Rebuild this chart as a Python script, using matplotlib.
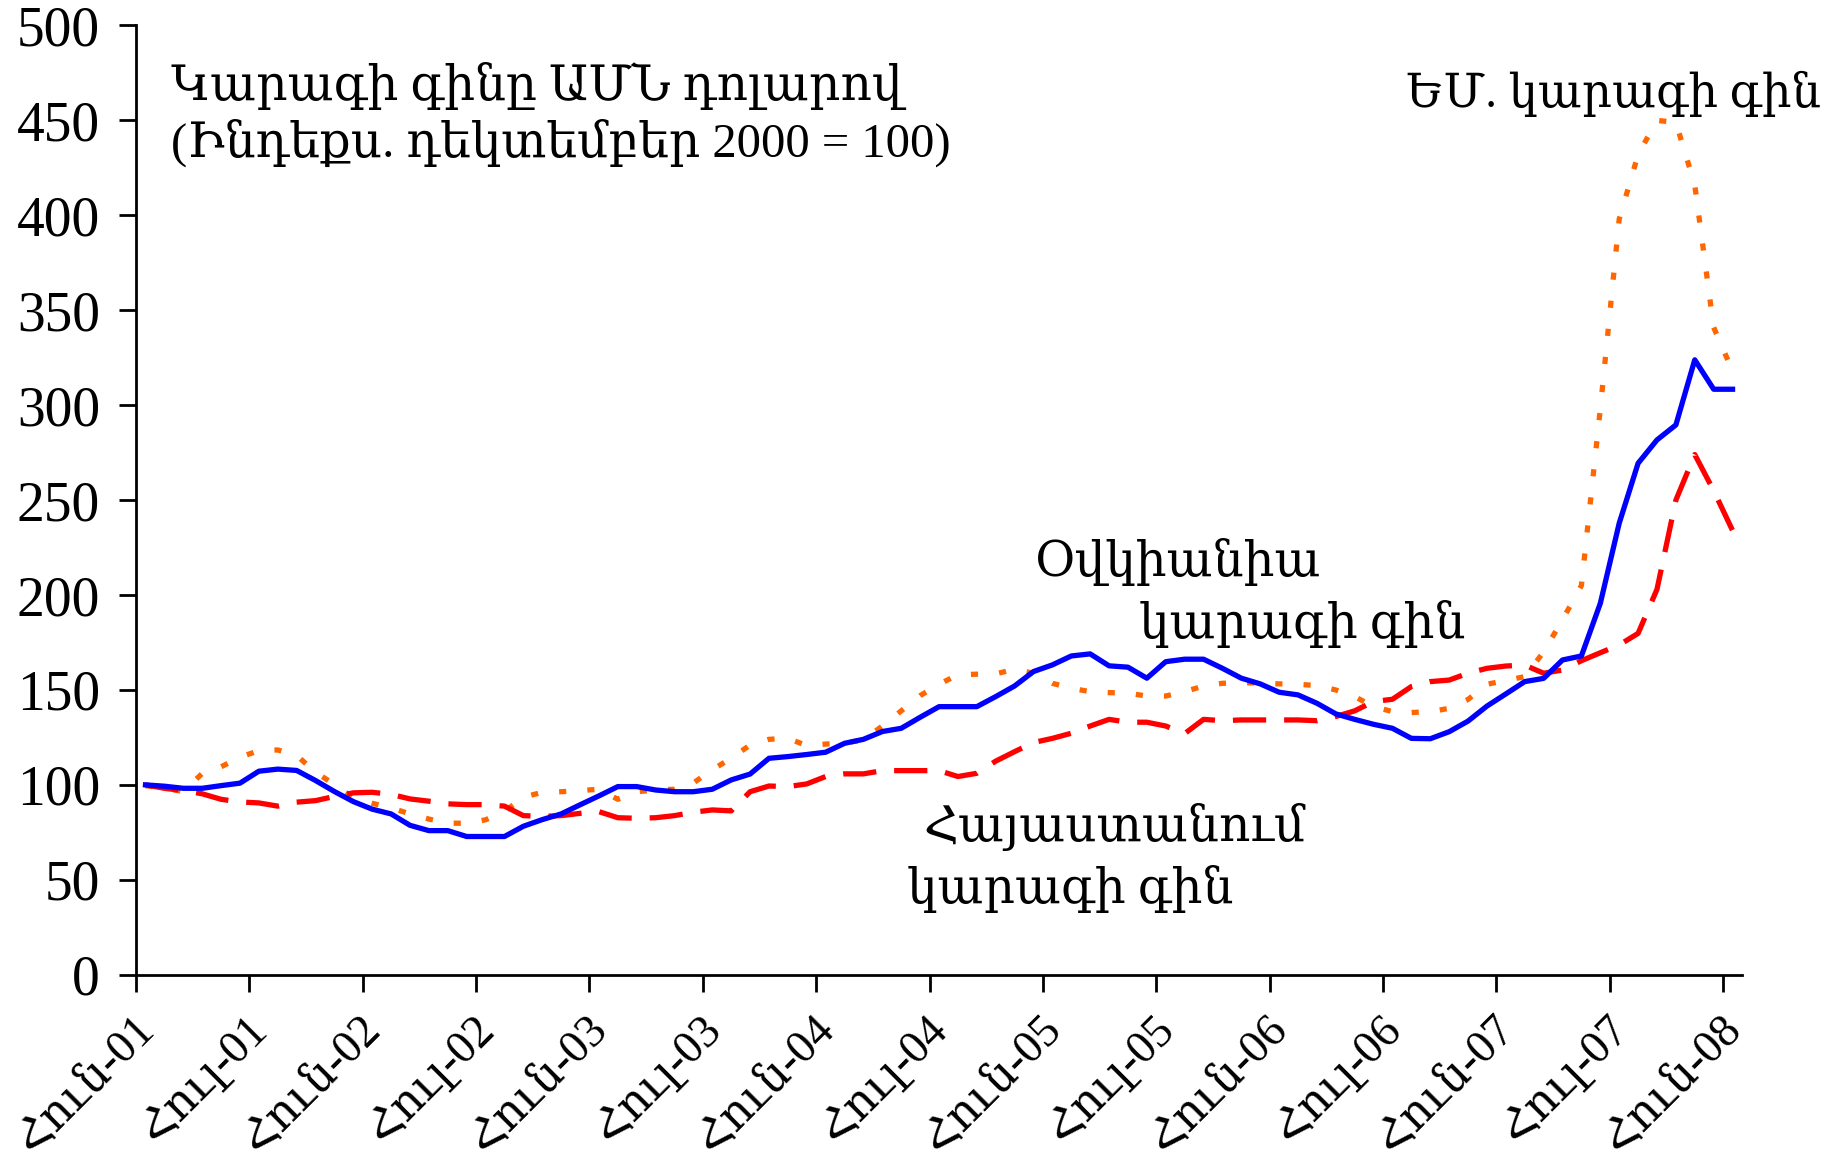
import matplotlib
matplotlib.use("Agg")
import matplotlib.pyplot as plt
import matplotlib.transforms as mtransforms
import numpy as np

# monthly index values, Jan-01 .. Jan-08 (Dec 2000 = 100)
oceania = [100, 99.3, 98.2, 98.2, 99.6, 100.9, 107.2, 108.3, 107.6, 102.3,
           96.5, 91.2, 87.2, 84.7, 78.7, 75.9, 75.9, 72.8, 72.8, 72.8,
           78.2, 81.7, 84.7, 89.5, 94.2, 99.1, 99.1, 97.3, 96.4, 96.4,
           97.7, 102.6, 105.7, 114.0, 114.9, 116.0, 117.2, 121.9, 124.0, 128.1,
           129.8, 135.6, 141.2, 141.2, 141.2, 146.5, 152.1, 159.7, 163.2, 167.9,
           169.0, 162.7, 162.0, 156.2, 164.9, 166.2, 166.2, 161.4, 156.2, 153.2,
           148.8, 147.4, 143.0, 137.4, 134.5, 131.9, 129.8, 124.5, 124.3, 128.0,
           133.6, 141.5, 147.9, 154.4, 156.1, 165.8, 167.9, 195.6, 237.8, 269.4,
           281.7, 289.6, 323.9, 308.4, 308.4]

eu = [99.6, 98.2, 96.5, 106.0, 109.5, 114.6, 118.0, 118.4, 115.5, 106.7,
      100.2, 93.2, 90.3, 87.9, 84.7, 82.0, 79.8, 79.8, 81.6, 86.0,
      93.5, 96.1, 96.4, 97.0, 97.7, 92.4, 96.4, 97.3, 97.7, 101.0,
      108.0, 114.0, 121.0, 124.0, 124.5, 120.7, 121.5, 122.0, 123.7, 131.0,
      139.0, 147.0, 153.0, 158.0, 158.3, 158.5, 160.9, 158.8, 153.5, 150.9,
      149.1, 148.6, 148.3, 146.8, 146.8, 149.1, 152.1, 153.5, 153.9, 153.5,
      153.2, 153.0, 152.3, 150.0, 146.5, 141.2, 138.6, 138.1, 138.6, 140.3,
      145.0, 153.0, 155.0, 157.0, 170.0, 187.0, 205.0, 298.0, 398.0, 432.0,
      450.0, 449.0, 416.0, 341.0, 318.0]

armenia = [100, 98.2, 97.0, 95.3, 92.4, 91.0, 90.5, 88.8, 90.9, 91.7,
           93.9, 95.8, 96.1, 95.0, 92.6, 91.4, 90.0, 89.6, 89.6, 88.8,
           83.8, 83.4, 83.8, 85.0, 85.9, 82.7, 82.4, 82.7, 83.8, 85.6,
           86.8, 86.3, 96.4, 99.4, 99.1, 100.5, 104.4, 105.8, 105.8, 107.5,
           107.5, 107.5, 107.5, 104.4, 106.1, 112.5, 117.5, 122.3, 124.5, 127.2,
           131.0, 134.5, 133.0, 133.0, 131.0, 127.0, 134.5, 133.8, 134.2, 134.2,
           134.2, 134.2, 133.8, 136.0, 139.0, 143.9, 145.1, 151.8, 154.4, 155.2,
           158.8, 161.4, 162.6, 163.1, 158.8, 160.5, 165.4, 169.6, 173.7, 179.8,
           203.0, 250.0, 274.0, 255.0, 234.0]

tick_labels = ["Հուն-01", "Հուլ-01", "Հուն-02", "Հուլ-02", "Հուն-03",
               "Հուլ-03", "Հուն-04", "Հուլ-04", "Հուն-05", "Հուլ-05",
               "Հուն-06", "Հուլ-06", "Հուն-07", "Հուլ-07", "Հուն-08"]

FONT = ["Liberation Serif", "DejaVu Serif", "DejaVu Sans"]
plt.rcParams["font.family"] = FONT

months = np.arange(len(oceania)) + 0.5

fig = plt.figure(figsize=(18.26, 11.59), dpi=100)
ax = fig.add_axes([0.0745, 0.159, 0.8795, 0.819])

lw = 3.8
ax.plot(months, eu, color="#FF6600", linewidth=lw, linestyle=(0, (1.35, 4.0)),
        dash_capstyle="butt", zorder=2)
ax.plot(months, armenia, color="#FF0000", linewidth=lw, linestyle=(0, (6.3, 3.4)),
        dash_capstyle="butt", zorder=3)
ax.plot(months, oceania, color="#0000FF", linewidth=lw, zorder=4)

ax.set_xlim(0, 85)
ax.set_ylim(0, 500)
ax.set_yticks(np.arange(0, 501, 50))
ax.set_xticks(np.arange(0, 85, 6))
ax.set_xticklabels(tick_labels, rotation=45, ha="right", va="center",
                   rotation_mode="anchor")

for s in ["top", "right"]:
    ax.spines[s].set_visible(False)
for s in ["left", "bottom"]:
    ax.spines[s].set_linewidth(2)

ax.tick_params(axis="y", direction="out", length=12, width=2, labelsize=40, pad=14)
ax.tick_params(axis="x", direction="out", length=12, width=2, labelsize=33, pad=23)

# nudge the rotated month labels a bit to the right, as in the original
shift = mtransforms.ScaledTranslation(12 / 100, 0, fig.dpi_scale_trans)
for lab in ax.get_xticklabels():
    lab.set_transform(lab.get_transform() + shift)

fs = 35
ax.text(1.85, 461, "Կարագի գինը ԱՄՆ դոլարով", fontsize=fs)
ax.text(1.85, 430.7, "(Ինդեքս. դեկտեմբեր 2000 = 100)", fontsize=fs)
ax.text(67.2, 457, "ԵՄ. կարագի գին", fontsize=33.5)
ax.text(47.6, 209.8, "Օվկիանիա", fontsize=fs)
ax.text(53.1, 177.3, "կարագի գին", fontsize=fs)
ax.text(41.7, 70.6, "Հայաստանում", fontsize=fs)
ax.text(40.8, 38, "կարագի գին", fontsize=fs)

fig.savefig("out.png", dpi=100)
